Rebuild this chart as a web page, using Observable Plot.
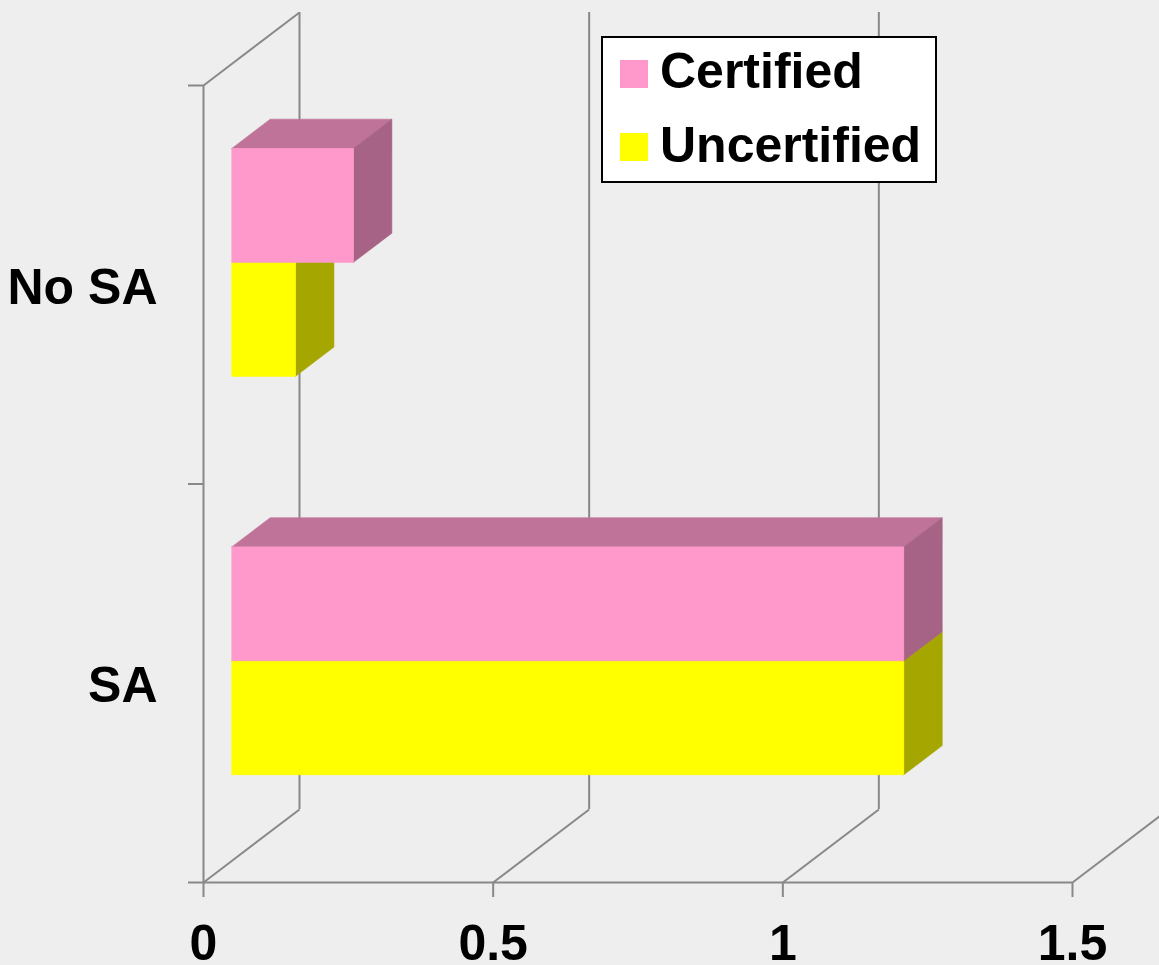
<!DOCTYPE html>
<html>
<head>
<meta charset="utf-8">
<script src="https://cdn.jsdelivr.net/npm/d3@7"></script>
<script src="https://cdn.jsdelivr.net/npm/@observablehq/plot@0.6"></script>
<style>
  html, body { margin: 0; padding: 0; background: #eeeeee; overflow: hidden; }
  #chart { width: 1159px; height: 965px; }
  #chart svg { overflow: hidden !important; display: block; }
</style>
</head>
<body>
<div id="chart"></div>
<script>
// ---- data ----
const categories = ["SA", "No SA"];           // bottom to top
const seriesNames = ["Certified", "Uncertified"];
const certifiedValues = [1.16, 0.21];
const uncertifiedValues = [1.16, 0.11];
const xTickValues = [0, 0.5, 1, 1.5];
const seriesColors = ["#ff99cc", "#ffff00"];

// ---- layout / 3D styling ----
const W = 1159, H = 965, mL = 203, mR = 87, mT = 85, mB = 83;
const xDomain = [0, 1.5], yDomain = [0, categories.length];
const depthPx = {x: 96, y: 73};
const DXu = depthPx.x * (xDomain[1] - xDomain[0]) / (W - mL - mR);
const DYu = depthPx.y * (yDomain[1] - yDomain[0]) / (H - mT - mB);
const barThick = 0.286, d0 = 0.3, d1 = 0.7;
const gridColor = "#888888", gridWidth = 2;

const bars = [];
categories.forEach((c, i) => {
  const mid = i + 0.5;
  bars.push({category: c, series: seriesNames[1], value: uncertifiedValues[i], y0: mid - barThick, y1: mid});
  bars.push({category: c, series: seriesNames[0], value: certifiedValues[i], y0: mid, y1: mid + barThick});
});

function shade(hex, k) {
  const c = d3.rgb(hex);
  return d3.rgb(c.r * k, c.g * k, c.b * k).formatHex();
}

function barMarks(si) {
  const series = seriesNames[si];
  const col = seriesColors[si];
  const data = bars.filter(b => b.series === series);
  const top = data.flatMap(b => [d0, d1].map(d => ({id: b.category, y: b.y1 + d * DYu, x1: d * DXu, x2: b.value + d * DXu})));
  const side = data.flatMap(b => [d0, d1].map(d => ({id: b.category, x: b.value + d * DXu, y1: b.y0 + d * DYu, y2: b.y1 + d * DYu})));
  const topCol = shade(col, 0.75), sideCol = shade(col, 0.65);
  return [
    Plot.areaX(top, {y: "y", x1: "x1", x2: "x2", z: "id", fill: topCol, stroke: topCol, strokeWidth: 0.6}),
    Plot.areaY(side, {x: "x", y1: "y1", y2: "y2", z: "id", fill: sideCol, stroke: sideCol, strokeWidth: 0.6}),
    Plot.rect(data, {
      x1: () => d0 * DXu, x2: b => b.value + d0 * DXu,
      y1: b => b.y0 + d0 * DYu, y2: b => b.y1 + d0 * DYu,
      fill: col, stroke: col, strokeWidth: 0.6
    })
  ];
}

const chart = Plot.plot({
  width: W, height: H,
  marginLeft: mL, marginRight: mR, marginTop: mT, marginBottom: mB,
  x: {domain: xDomain},
  y: {domain: yDomain},
  style: {
    background: "#eeeeee",
    fontFamily: "'Liberation Sans', Arial, sans-serif",
    fontWeight: "bold",
    fontSize: "50px",
    color: "black"
  },
  marks: [
    // floor
    Plot.ruleY([0], {x1: xDomain[0], x2: xDomain[1], stroke: gridColor, strokeWidth: gridWidth}),
    Plot.link(xTickValues, {x1: d => d, y1: () => 0, x2: d => d + DXu, y2: () => DYu, stroke: gridColor, strokeWidth: gridWidth}),
    // back wall verticals
    Plot.ruleX(xTickValues, {x: d => d + DXu, y1: () => DYu, y2: () => yDomain[1] + DYu, stroke: gridColor, strokeWidth: gridWidth}),
    // left wall
    Plot.ruleX([0], {y1: yDomain[0], y2: yDomain[1], stroke: gridColor, strokeWidth: gridWidth}),
    Plot.link([0], {x1: () => 0, y1: () => yDomain[1], x2: () => DXu, y2: () => yDomain[1] + DYu, stroke: gridColor, strokeWidth: gridWidth}),
    // bars
    ...barMarks(1),
    ...barMarks(0),
    // axes
    Plot.axisX({ticks: xTickValues, tickSize: 15, tickPadding: 27, tickFormat: d => String(d), stroke: gridColor, strokeWidth: gridWidth, label: null}),
    Plot.axisY({ticks: [0, 1, 2], tickSize: 15, tickFormat: () => "", stroke: gridColor, strokeWidth: gridWidth, label: null}),
    Plot.axisY({ticks: categories.map((c, i) => i + 0.5), tickSize: 0, tickPadding: 46, tickFormat: d => categories[Math.floor(d)], dy: 3, label: null})
  ]
});

// legend (drawn into the chart svg)
const svg = d3.select(chart.tagName.toLowerCase() === "svg" ? chart : chart.querySelector("svg"));
const lg = svg.append("g")
  .attr("font-family", "'Liberation Sans', Arial, sans-serif")
  .attr("font-weight", "bold").attr("font-size", 50).attr("text-anchor", "start");
lg.append("rect").attr("x", 602).attr("y", 37).attr("width", 334).attr("height", 145)
  .attr("fill", "white").attr("stroke", "black").attr("stroke-width", 2);
seriesNames.forEach((s, i) => {
  lg.append("rect").attr("x", 620).attr("y", 60 + i * 73).attr("width", 28).attr("height", 28).attr("fill", seriesColors[i]);
  lg.append("text").attr("x", 660).attr("y", 88 + i * 74).attr("fill", "black").attr("text-anchor", "start").text(s);
});

document.getElementById("chart").appendChild(chart);
</script>
</body>
</html>
